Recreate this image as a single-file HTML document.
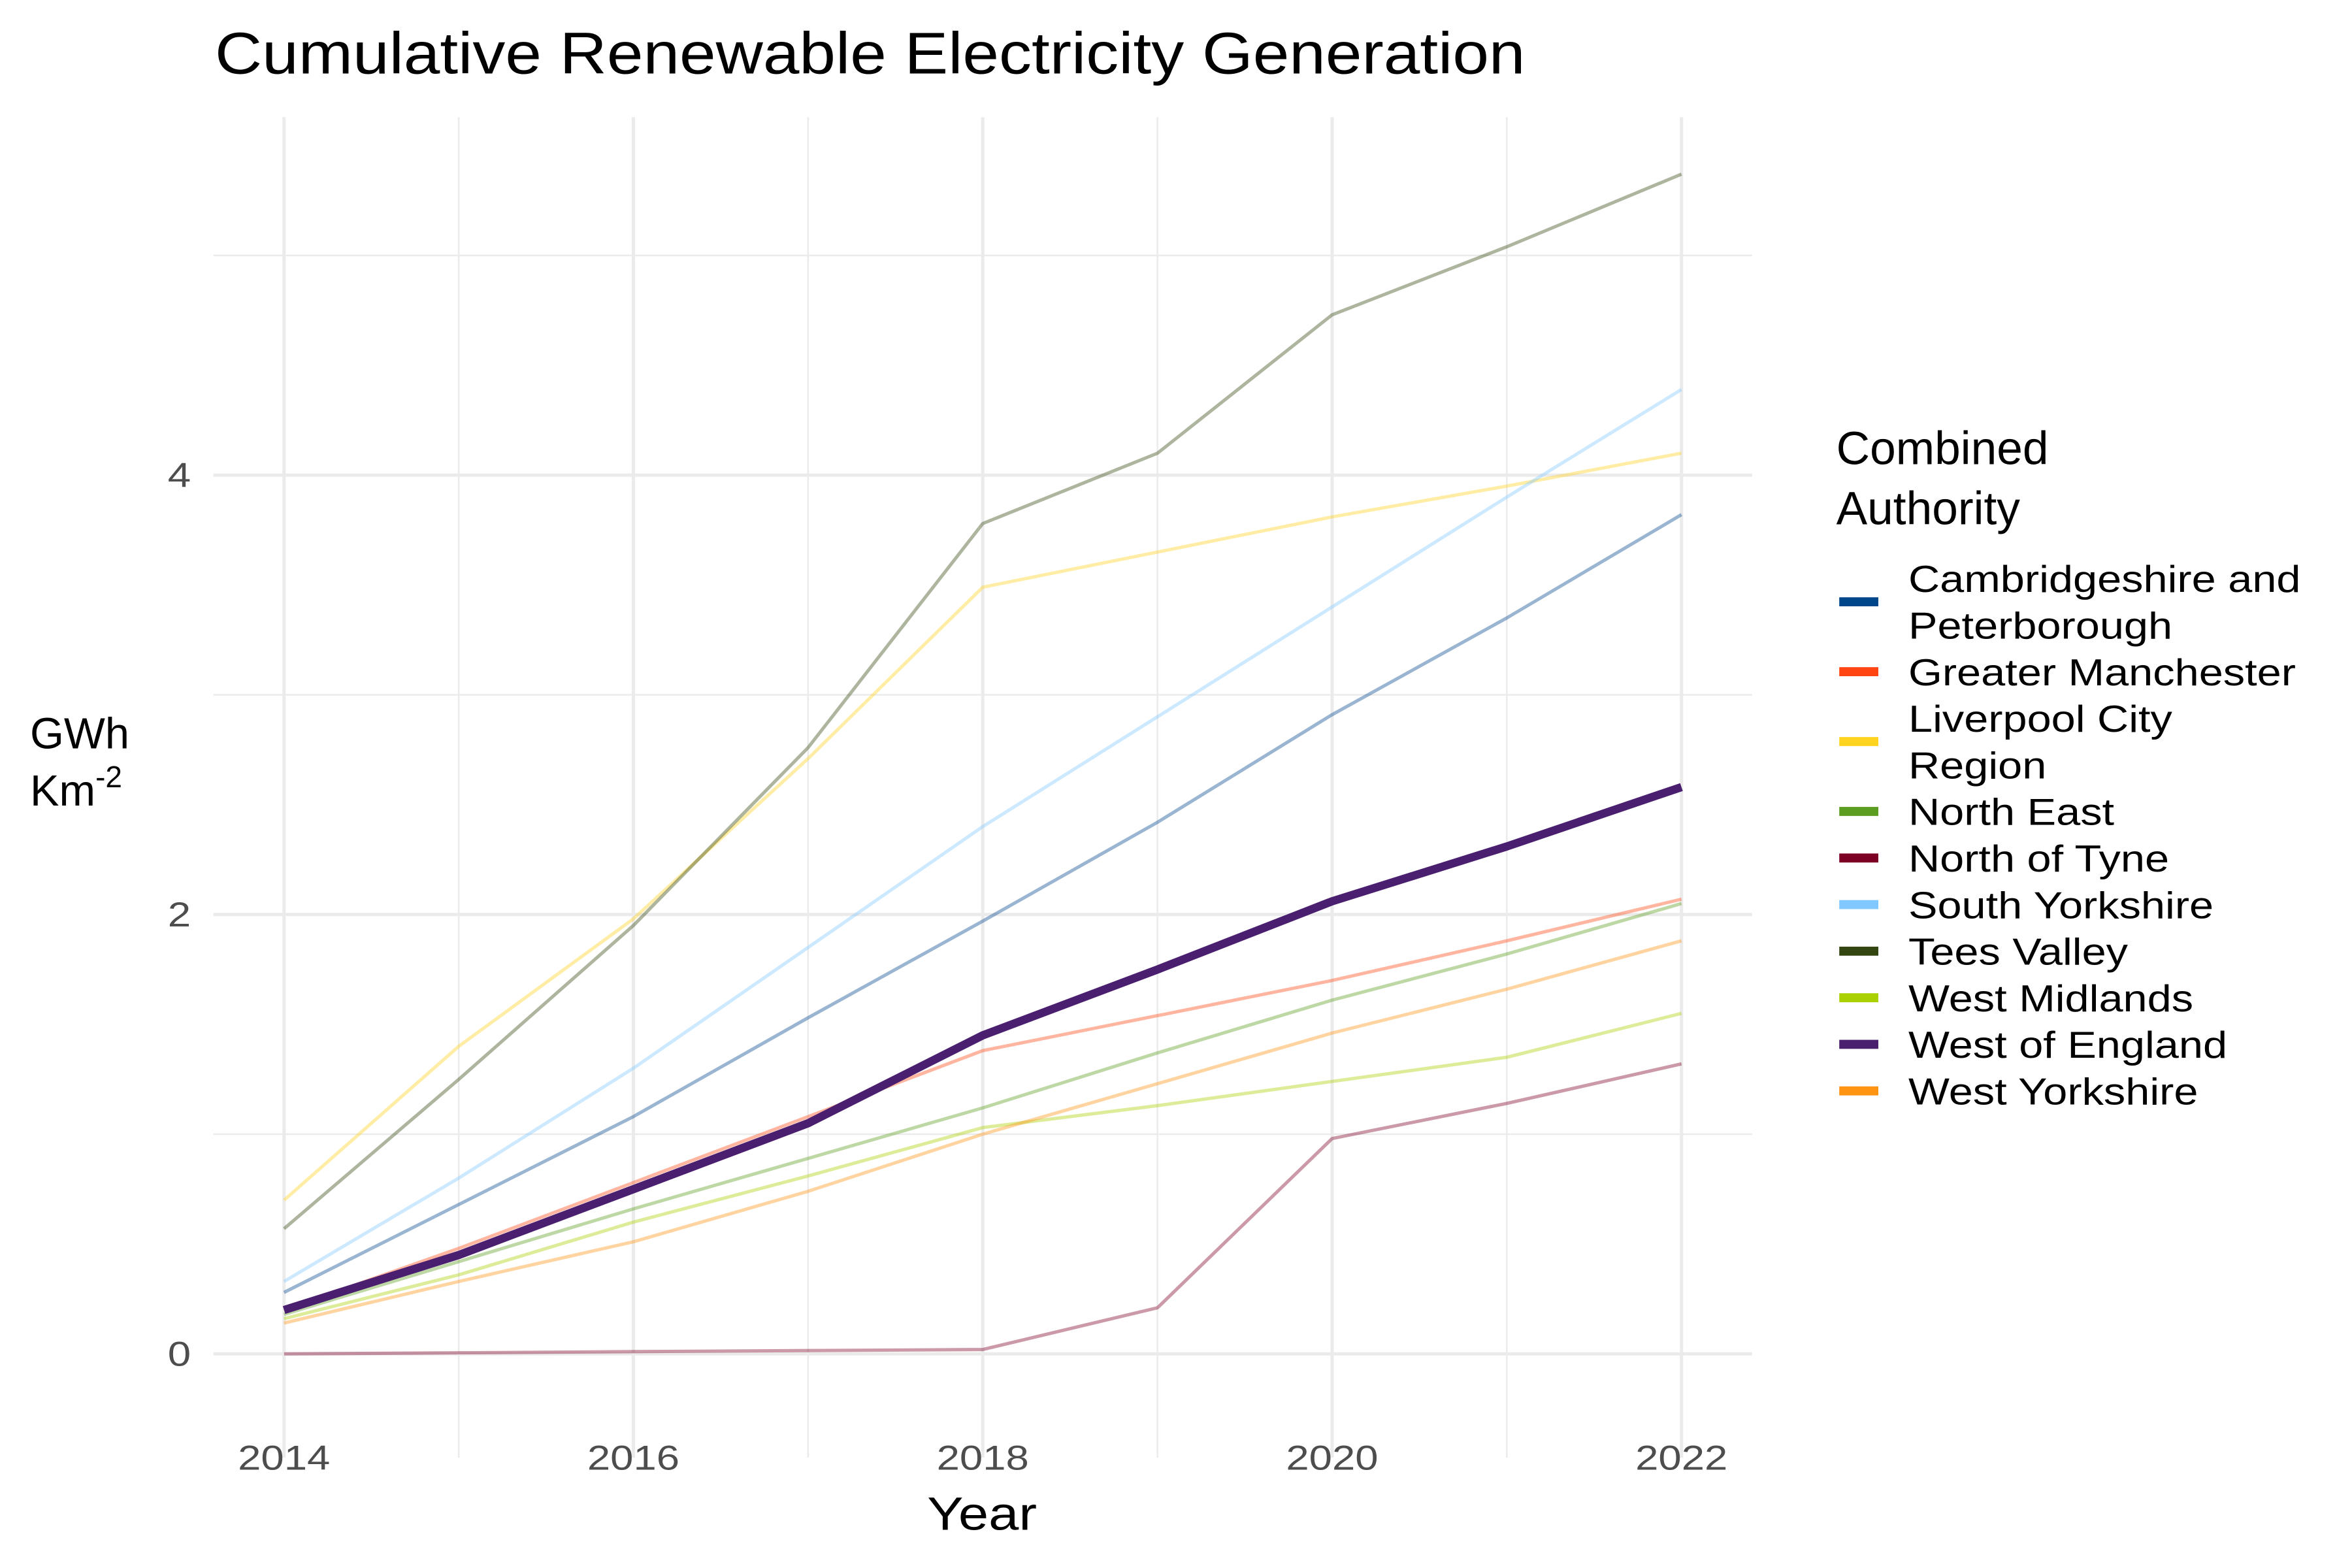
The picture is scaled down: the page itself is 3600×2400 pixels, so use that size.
<!DOCTYPE html>
<html><head><meta charset="utf-8"><style>
html,body{margin:0;padding:0;background:#fff;}
svg{display:block;}
text{font-family:"Liberation Sans",Arial,sans-serif;}
</style></head><body>
<svg id="chart" width="3600" height="2400" viewBox="0 0 1565.2 1043.5" xmlns="http://www.w3.org/2000/svg">
<rect width="1565.2" height="1043.5" fill="#fff"/>
<text id="title" x="143" y="49" font-size="39" fill="#000" textLength="872" lengthAdjust="spacingAndGlyphs">Cumulative Renewable Electricity Generation</text>
<g id="grid"></g>
<g id="series"></g>
<g id="axes"></g>
<text id="xtitle" x="617" y="1018" font-size="31" fill="#000" textLength="73" lengthAdjust="spacingAndGlyphs">Year</text>
<g font-size="29" fill="#000">
<text x="20" y="498">GWh</text>
<text x="20" y="536">Km<tspan font-size="20" dy="-12">-2</tspan></text>
</g>
<g id="legend">
<text x="1222" y="309" font-size="31" fill="#000">Combined</text>
<text x="1222" y="349" font-size="31" fill="#000">Authority</text>
</g>
</svg>
<script>
const years = [2014,2015,2016,2017,2018,2019,2020,2021,2022];
const seriesNames = ["Cambridgeshire and Peterborough","Greater Manchester","Liverpool City Region","North East","North of Tyne","South Yorkshire","Tees Valley","West Midlands","West of England","West Yorkshire"];
const seriesColors = ["#00468b","#ff4511","#ffd320","#5a9d1f","#7c0024","#80c8ff","#334510","#aad000","#4b1f6f","#ff9412"];
const cambridgeshire = [0.28,0.68,1.08,1.53,1.97,2.42,2.91,3.35,3.82];
const greaterManchester = [0.20,0.48,0.78,1.08,1.38,1.54,1.70,1.88,2.07];
const liverpool = [0.70,1.40,1.98,2.71,3.49,3.65,3.81,3.95,4.10];
const northEast = [0.18,0.42,0.66,0.89,1.12,1.37,1.61,1.82,2.05];
const northOfTyne = [0.0,0.005,0.01,0.015,0.02,0.21,0.98,1.14,1.32];
const southYorkshire = [0.33,0.80,1.30,1.85,2.40,2.90,3.40,3.90,4.39];
const teesValley = [0.57,1.25,1.95,2.76,3.78,4.10,4.73,5.04,5.37];
const westMidlands = [0.16,0.36,0.60,0.81,1.03,1.13,1.24,1.35,1.55];
const westOfEngland = [0.20,0.45,0.75,1.05,1.45,1.75,2.06,2.31,2.58];
const westYorkshire = [0.14,0.33,0.51,0.74,1.00,1.23,1.46,1.66,1.88];
const xTicks = [2014,2016,2018,2020,2022];
const yTicks = [0,2,4];
const yMinor = [1,3,5];

const NS="http://www.w3.org/2000/svg";
const allSeries=[cambridgeshire,greaterManchester,liverpool,northEast,northOfTyne,southYorkshire,teesValley,westMidlands,westOfEngland,westYorkshire];
function xs(v){return 189+(v-2014)*(1119-189)/8;}
function ys(v){return 901-v*146.2;}
function mk(tag,attrs,parent){const e=document.createElementNS(NS,tag);for(const k in attrs)e.setAttribute(k,attrs[k]);parent.appendChild(e);return e;}
function stretch(el,ratio){const w=el.getComputedTextLength();el.setAttribute('textLength',(w*ratio).toFixed(1));el.setAttribute('lengthAdjust','spacingAndGlyphs');}
const grid=document.getElementById('grid');
for(let y=2014;y<=2022;y++){
  const l=mk('line',{x1:xs(y),x2:xs(y),y1:78,y2:970,stroke:'#ebebeb','stroke-width':(y%2===0)?2.2:1.1},grid);
  
  
}
yMinor.forEach(v=>{const l=mk('line',{x1:142,x2:1166,y1:ys(v),y2:ys(v),stroke:'#ebebeb','stroke-width':1.1},grid);
  
  });
yTicks.forEach(v=>{const l=mk('line',{x1:142,x2:1166,y1:ys(v),y2:ys(v),stroke:'#ebebeb','stroke-width':2.2},grid);
  
  });
const axes=document.getElementById('axes');
xTicks.forEach(v=>{const t=mk('text',{x:xs(v),y:978,'font-size':23,'text-anchor':'middle',fill:'#4d4d4d'},axes);t.textContent=v;
  
  
  stretch(t,1.2);});
yTicks.forEach(v=>{const t=mk('text',{x:127,y:ys(v)+8,'font-size':23,'text-anchor':'end',fill:'#4d4d4d'},axes);t.textContent=v;
  
  
  stretch(t,1.2);});
const sg=document.getElementById('series');
const order=[0,1,2,3,4,5,6,7,9,8];
order.forEach(i=>{
  const d=allSeries[i].map((v,j)=>(j?'L':'M')+xs(years[j]).toFixed(1)+','+ys(v).toFixed(1)).join(' ');
  const hi=i===8;
  const p=mk('path',{d:d,fill:'none',stroke:seriesColors[i],'stroke-width':hi?5.5:2.2,'stroke-opacity':hi?1:0.4,'stroke-linejoin':'round'},sg);
  
  
});
const lg=document.getElementById('legend');
const labels=[["Cambridgeshire and","Peterborough"],["Greater Manchester"],["Liverpool City","Region"],["North East"],["North of Tyne"],["South Yorkshire"],["Tees Valley"],["West Midlands"],["West of England"],["West Yorkshire"]];
let y=385;
labels.forEach((ls,i)=>{
  const keyY=y+(ls.length-1)*15.5;
  const k=mk('rect',{x:1224,y:keyY-3,width:26,height:6,fill:seriesColors[i]},lg);
  
  
  ls.forEach((s,j)=>{const t=mk('text',{x:1270,y:y+j*31+9,'font-size':25,fill:'#000'},lg);t.textContent=s;
    
    
    stretch(t,1.16);});
  y+=ls.length*31;
});
</script>
</body></html>
